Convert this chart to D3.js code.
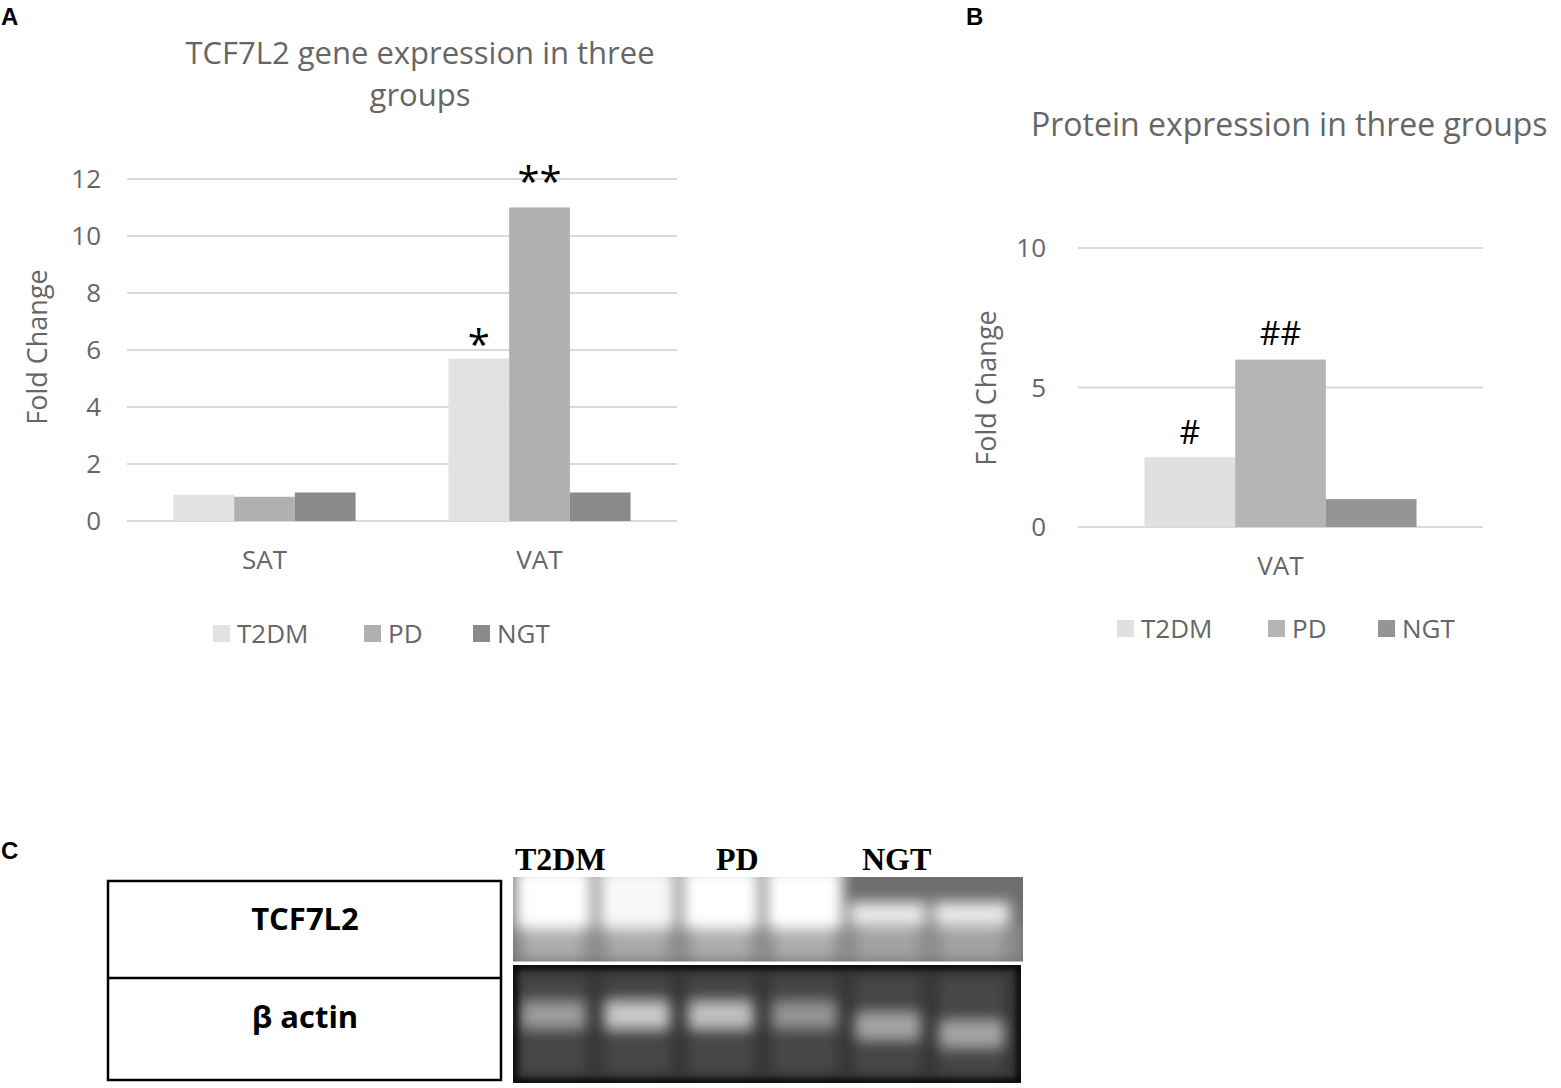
<!DOCTYPE html>
<html>
  <head>
    <script src="https://d3js.org/d3.v7.min.js"></script>
    <style>
      body { margin: 0; background: #fff; }
    </style>
  </head>
  <body>
    <div id="container"></div>

    <script type="text/javascript">
      // ---- data ----
      var groups = ["T2DM", "PD", "NGT"];

      // panel A: gene expression (fold change)
      var geneTissues = ["SAT", "VAT"];
      var geneT2DM = [0.92, 5.7];
      var genePD   = [0.85, 11.0];
      var geneNGT  = [1.0, 1.0];
      var geneTicks = [0, 2, 4, 6, 8, 10, 12];
      var geneMarks = [
        { tissue: "VAT", group: "T2DM", label: "*" },
        { tissue: "VAT", group: "PD", label: "**" }
      ];

      // panel B: protein expression (fold change)
      var protTissues = ["VAT"];
      var protT2DM = [2.5];
      var protPD   = [6.0];
      var protNGT  = [1.0];
      var protTicks = [0, 5, 10];
      var protMarks = [
        { tissue: "VAT", group: "T2DM", label: "#" },
        { tissue: "VAT", group: "PD", label: "##" }
      ];

      // panel C: western blot, relative band brightness per lane
      var blotLanes = ["T2DM", "T2DM", "PD", "PD", "NGT", "NGT"];
      var tcfBand   = [1.0, 0.95, 1.0, 1.0, 0.85, 0.85];
      var actinBand = [0.55, 0.8, 0.75, 0.5, 0.6, 0.6];

      var width = 1561, height = 1088;
      var svg = d3.select("#container").append("svg")
        .attr("width", width)
        .attr("height", height)
        .style("font-family", "'Open Sans', sans-serif");

      var txtGray = "#666";

      function rows(tissues, a, b, c) {
        return tissues.map(function(t, i) {
          return { tissue: t, values: [
            { group: "T2DM", v: a[i] },
            { group: "PD", v: b[i] },
            { group: "NGT", v: c[i] } ] };
        });
      }

      function drawPanel(opt) {
        var g = svg.append("g");
        var x = d3.scaleBand().domain(opt.tissues).range([opt.x0, opt.x1]);
        var xs = d3.scaleBand().domain(groups)
          .range([0, x.bandwidth()]).paddingOuter(opt.pad);
        var y = d3.scaleLinear().domain([0, opt.max]).range([opt.y0, opt.y1]);
        var color = d3.scaleOrdinal().domain(groups).range(opt.colors);

        // grid
        g.selectAll("line.grid").data(opt.ticks).enter().append("line")
          .attr("x1", opt.x0).attr("x2", opt.x1)
          .attr("y1", function(d) { return y(d); })
          .attr("y2", function(d) { return y(d); })
          .attr("stroke", "#d9d9d9").attr("stroke-width", 2);

        // tick labels
        g.selectAll("text.tick").data(opt.ticks).enter().append("text")
          .attr("x", opt.tickX)
          .attr("y", function(d) { return y(d); })
          .attr("dy", "0.36em")
          .attr("text-anchor", "end")
          .attr("font-size", 26)
          .attr("fill", txtGray)
          .text(function(d) { return d; });

        // bars
        var cat = g.selectAll("g.cat").data(opt.data).enter().append("g")
          .attr("transform", function(d) { return "translate(" + x(d.tissue) + ",0)"; });
        cat.selectAll("rect").data(function(d) { return d.values; }).enter().append("rect")
          .attr("x", function(d) { return xs(d.group); })
          .attr("width", xs.bandwidth())
          .attr("y", function(d) { return y(d.v); })
          .attr("height", function(d) { return y(0) - y(d.v); })
          .attr("fill", function(d) { return color(d.group); });

        // category labels
        g.selectAll("text.cat").data(opt.tissues).enter().append("text")
          .attr("x", function(d) { return x(d) + x.bandwidth() / 2; })
          .attr("y", opt.catY)
          .attr("text-anchor", "middle")
          .attr("font-size", 26)
          .attr("fill", txtGray)
          .text(function(d) { return d; });

        // significance marks
        g.selectAll("text.mark").data(opt.marks).enter().append("text")
          .attr("x", function(d) { return x(d.tissue) + xs(d.group) + xs.bandwidth() / 2; })
          .attr("y", function(d) {
            var row = opt.data.filter(function(r) { return r.tissue == d.tissue; })[0];
            var v = row.values.filter(function(r) { return r.group == d.group; })[0].v;
            return y(v) - opt.markLift(d);
          })
          .attr("text-anchor", "middle")
          .attr("font-size", opt.markSize)
          .attr("fill", "#000")
          .text(function(d) { return d.label; });

        // axis title
        g.append("text")
          .attr("transform", "translate(" + opt.axisX + "," + opt.axisY + ") rotate(-90)")
          .attr("text-anchor", "middle")
          .attr("font-size", 27)
          .attr("fill", txtGray)
          .text("Fold Change");

        // chart title
        var t = g.append("text")
          .attr("x", opt.titleX)
          .attr("text-anchor", opt.titleAnchor)
          .attr("font-size", opt.titleSize)
          .attr("fill", txtGray);
        opt.title.forEach(function(line, i) {
          t.append("tspan").attr("x", opt.titleX)
            .attr("y", opt.titleY + i * 42).text(line);
        });

        // legend
        var lg = g.selectAll("g.legend").data(groups).enter().append("g")
          .attr("transform", function(d, i) { return "translate(" + opt.legendX[i] + "," + opt.legendY + ")"; });
        lg.append("rect")
          .attr("x", 0).attr("y", -18).attr("width", 17).attr("height", 17)
          .attr("fill", function(d) { return color(d); });
        lg.append("text")
          .attr("x", 24).attr("y", 0)
          .attr("font-size", 26)
          .attr("fill", txtGray)
          .text(function(d) { return d; });
      }

      drawPanel({
        data: rows(geneTissues, geneT2DM, genePD, geneNGT),
        tissues: geneTissues, ticks: geneTicks, marks: geneMarks, max: 12,
        x0: 127, x1: 677, y0: 521, y1: 179, pad: 0.765,
        colors: ["#e2e2e2", "#b0b0b0", "#8a8a8a"],
        tickX: 101, catY: 569, axisX: 47, axisY: 347,
        markSize: 40,
        markLift: function(d) { return d.label == "**" ? 12 : 0; },
        title: ["TCF7L2 gene expression in three", "groups"],
        titleX: 420, titleY: 64, titleAnchor: "middle", titleSize: 31,
        legendX: [213, 364, 473], legendY: 643
      });

      drawPanel({
        data: rows(protTissues, protT2DM, protPD, protNGT),
        tissues: protTissues, ticks: protTicks, marks: protMarks, max: 10,
        x0: 1078, x1: 1483, y0: 527, y1: 248, pad: 0.733,
        colors: ["#e0e0e0", "#b5b5b5", "#959595"],
        tickX: 1046, catY: 575, axisX: 996, axisY: 388,
        markSize: 32,
        markLift: function(d) { return d.label == "##" ? 15 : 13; },
        title: ["Protein expression in three groups"],
        titleX: 1031, titleY: 136, titleAnchor: "start", titleSize: 32,
        legendX: [1117, 1268, 1378], legendY: 638
      });

      // ---- panel letters ----
      svg.selectAll("text.letter")
        .data([["A", 1, 25], ["B", 966, 25], ["C", 1, 859]])
        .enter().append("text")
        .attr("x", function(d) { return d[1]; })
        .attr("y", function(d) { return d[2]; })
        .attr("font-family", "'Liberation Sans', Arial, sans-serif")
        .attr("font-weight", "bold")
        .attr("font-size", 24)
        .text(function(d) { return d[0]; });

      // ---- panel C: label box ----
      var box = svg.append("g");
      box.append("rect")
        .attr("x", 108).attr("y", 881).attr("width", 393).attr("height", 199)
        .attr("fill", "none").attr("stroke", "#000").attr("stroke-width", 2.5);
      box.append("line")
        .attr("x1", 108).attr("x2", 501).attr("y1", 978).attr("y2", 978)
        .attr("stroke", "#000").attr("stroke-width", 2.5);
      box.selectAll("text").data([["TCF7L2", 930], ["\u03b2 actin", 1028]])
        .enter().append("text")
        .attr("x", 305).attr("y", function(d) { return d[1]; })
        .attr("text-anchor", "middle")
        .attr("font-weight", "bold")
        .attr("font-size", 31)
        .text(function(d) { return d[0]; });

      // ---- panel C: blot ----
      var defs = svg.append("defs");
      defs.append("filter").attr("id", "blur8")
        .attr("x", "-50%").attr("y", "-50%").attr("width", "200%").attr("height", "200%")
        .append("feGaussianBlur").attr("stdDeviation", 7);
      defs.append("filter").attr("id", "blur3")
        .attr("x", "-50%").attr("y", "-50%").attr("width", "200%").attr("height", "200%")
        .append("feGaussianBlur").attr("stdDeviation", 3);
      defs.append("clipPath").attr("id", "clipTop")
        .append("rect").attr("x", 513).attr("y", 877).attr("width", 510).attr("height", 85);
      defs.append("clipPath").attr("id", "clipBot")
        .append("rect").attr("x", 513).attr("y", 965).attr("width", 508).attr("height", 118);

      var lane = d3.scaleBand().domain(d3.range(blotLanes.length))
        .range([515, 1010]).paddingInner(0.18).paddingOuter(0.05);
      var grey = d3.interpolateRgb("#6a6a6a", "#ffffff");
      var greyDark = d3.interpolateRgb("#3a3a3a", "#f0f0f0");

      // top blot (TCF7L2)
      var topBlot = svg.append("g").attr("clip-path", "url(#clipTop)");
      topBlot.append("rect").attr("x", 513).attr("y", 877).attr("width", 510).attr("height", 85)
        .attr("fill", "#6e6e6e");
      topBlot.append("rect").attr("x", 513).attr("y", 925).attr("width", 510).attr("height", 37)
        .attr("fill", "#8c8c8c").attr("filter", "url(#blur8)");
      var tg = topBlot.append("g").attr("filter", "url(#blur8)");
      tg.selectAll("rect.band").data(tcfBand).enter().append("rect")
        .attr("x", function(d, i) { return lane(i) - 4; })
        .attr("width", lane.bandwidth() + 8)
        .attr("y", function(d, i) { return blotLanes[i] == "NGT" ? 902 : 868; })
        .attr("height", function(d, i) { return blotLanes[i] == "NGT" ? 24 : 60; })
        .attr("fill", function(d) { return grey(d); });
      tg.selectAll("rect.smear").data(tcfBand).enter().append("rect")
        .attr("x", function(d, i) { return lane(i) + 4; })
        .attr("width", lane.bandwidth() - 8)
        .attr("y", 928).attr("height", 30)
        .attr("fill", function(d) { return grey(d * 0.45); });
      topBlot.append("line").attr("x1", 513).attr("x2", 1023).attr("y1", 963).attr("y2", 963)
        .attr("stroke", "#fff").attr("stroke-width", 3);

      // bottom blot (beta actin)
      var botBlot = svg.append("g").attr("clip-path", "url(#clipBot)");
      botBlot.append("rect").attr("x", 513).attr("y", 965).attr("width", 508).attr("height", 118)
        .attr("fill", "#333");
      var bg = botBlot.append("g").attr("filter", "url(#blur8)");
      bg.selectAll("rect.lane").data(actinBand).enter().append("rect")
        .attr("x", function(d, i) { return lane(i); })
        .attr("width", lane.bandwidth())
        .attr("y", 975).attr("height", 100)
        .attr("fill", "#474747");
      bg.selectAll("rect.band").data(actinBand).enter().append("rect")
        .attr("x", function(d, i) { return lane(i) + 2; })
        .attr("width", lane.bandwidth() - 4)
        .attr("y", function(d, i) { return blotLanes[i] == "NGT" ? 1014 + (i - 4) * 8 : 1003; })
        .attr("height", 24)
        .attr("fill", function(d) { return greyDark(d); });
      botBlot.append("rect").attr("x", 514).attr("y", 966).attr("width", 506).attr("height", 116)
        .attr("fill", "none").attr("stroke", "#000").attr("stroke-width", 6)
        .attr("filter", "url(#blur3)");

      // lane group labels
      svg.selectAll("text.lanelab")
        .data([["T2DM", 515], ["PD", 716], ["NGT", 862]])
        .enter().append("text")
        .attr("x", function(d) { return d[1]; })
        .attr("y", 870)
        .attr("font-family", "'Liberation Serif', 'Times New Roman', serif")
        .attr("font-weight", "bold")
        .attr("font-size", 32)
        .text(function(d) { return d[0]; });
    </script>
  </body>
</html>
